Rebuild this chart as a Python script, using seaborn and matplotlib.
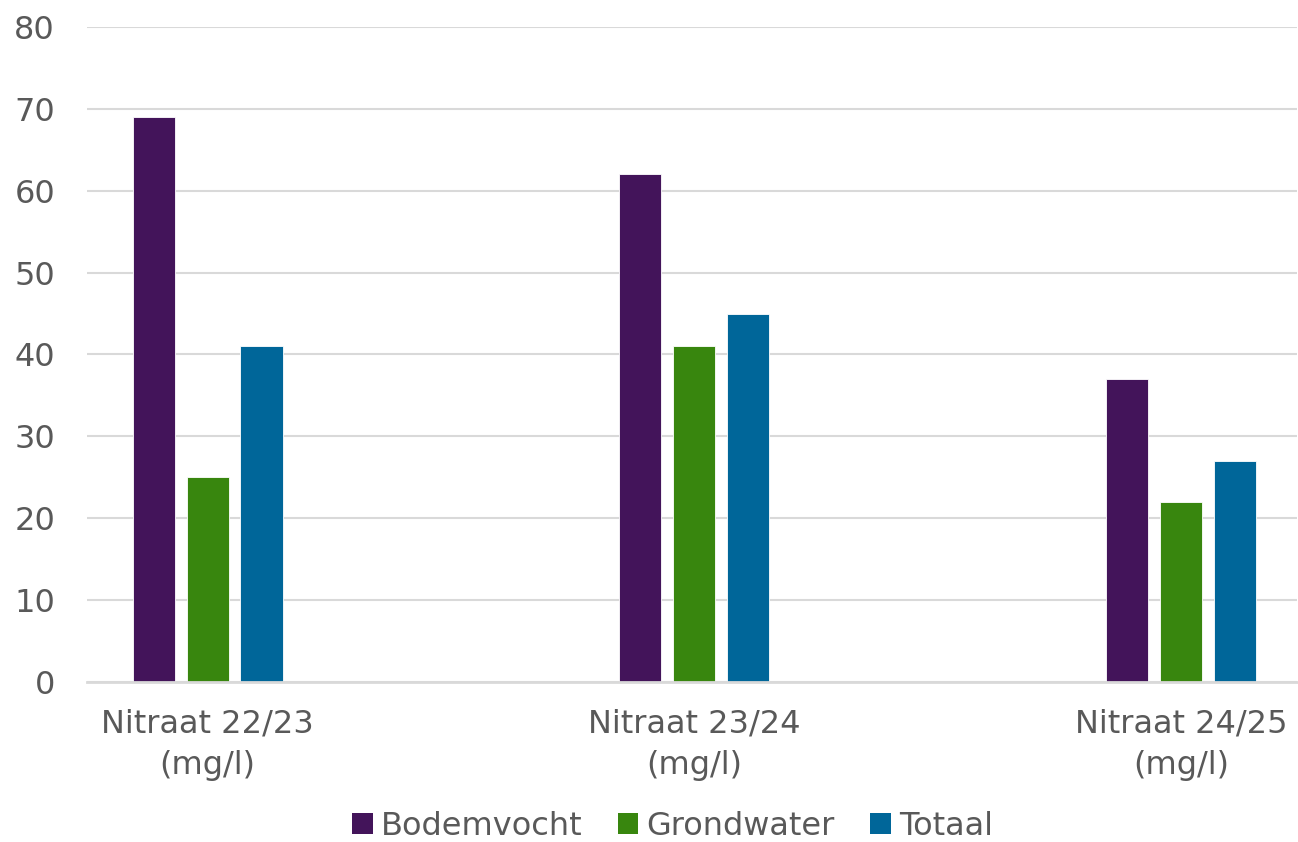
import matplotlib

matplotlib.use("Agg")

import matplotlib.pyplot as plt
import pandas as pd
import seaborn as sns
from matplotlib.patches import Patch

CATEGORIES = ["Nitraat 22/23\n(mg/l)", "Nitraat 23/24\n(mg/l)", "Nitraat 24/25\n(mg/l)"]
SERIES = ["Bodemvocht", "Grondwater", "Totaal"]
BODEMVOCHT = [69, 62, 37]
GRONDWATER = [25, 41, 22]
TOTAAL = [41, 45, 27]

PALETTE = ["#43145A", "#38860E", "#006699"]
TEXT_COLOR = "#595959"
GRID_COLOR = "#D9D9D9"

df = pd.DataFrame(
    {
        "category": CATEGORIES * 3,
        "series": [s for s in SERIES for _ in CATEGORIES],
        "value": BODEMVOCHT + GRONDWATER + TOTAAL,
    }
)

sns.set_theme(style="white")
plt.rcParams["font.family"] = ["DejaVu Sans"]

fig = plt.figure(figsize=(12.98, 8.42), dpi=100)
ax = fig.add_axes([0.067, 0.19, 0.932, 0.778])

sns.barplot(
    data=df,
    x="category",
    y="value",
    hue="series",
    palette=PALETTE,
    saturation=1,
    width=0.332,
    gap=0.22,
    edgecolor="white",
    linewidth=0.6,
    legend=False,
    ax=ax,
)

ax.set_ylim(0, 80)
ax.set_yticks(range(0, 81, 10))
ax.set_xlim(-0.248, 2.238)
ax.yaxis.grid(True, color=GRID_COLOR, linewidth=1.5)
ax.set_axisbelow(True)
for side in ["top", "right", "left"]:
    ax.spines[side].set_visible(False)
ax.spines["bottom"].set_color(GRID_COLOR)
ax.spines["bottom"].set_linewidth(2)
ax.set_xlabel("")
ax.set_ylabel("")
ax.tick_params(axis="y", length=0, pad=23, labelsize=23, labelcolor=TEXT_COLOR)
ax.tick_params(axis="x", length=0, pad=19, labelsize=23, labelcolor=TEXT_COLOR)
for label in ax.get_xticklabels():
    label.set_linespacing(1.45)

handles = [Patch(facecolor=c, edgecolor="none") for c in PALETTE]
fig.legend(
    handles,
    SERIES,
    loc="center",
    bbox_to_anchor=(0.518, 0.019),
    ncol=3,
    frameon=False,
    fontsize=23,
    labelcolor=TEXT_COLOR,
    handlelength=0.65,
    handleheight=0.65,
    handletextpad=0.25,
    columnspacing=1.1,
)

fig.savefig("out.png", dpi=100)
